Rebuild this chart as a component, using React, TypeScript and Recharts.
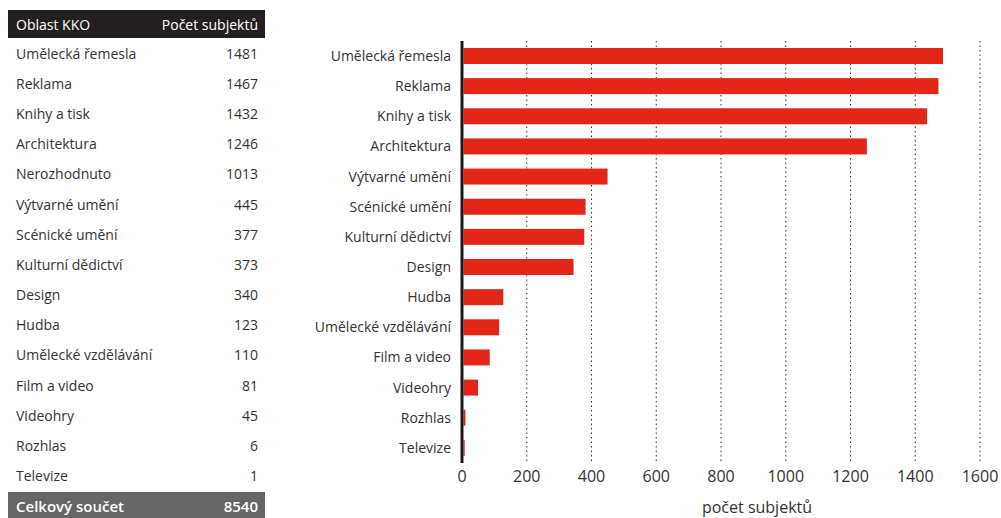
import { BarChart, Bar, XAxis, YAxis, CartesianGrid } from "recharts"

const categories = [
  "Umělecká řemesla",
  "Reklama",
  "Knihy a tisk",
  "Architektura",
  "Nerozhodnuto",
  "Výtvarné umění",
  "Scénické umění",
  "Kulturní dědictví",
  "Design",
  "Hudba",
  "Umělecké vzdělávání",
  "Film a video",
  "Videohry",
  "Rozhlas",
  "Televize",
]
const counts = [1481, 1467, 1432, 1246, 1013, 445, 377, 373, 340, 123, 110, 81, 45, 6, 1]
const notInChart = ["Nerozhodnuto"]
const xTicks = [0, 200, 400, 600, 800, 1000, 1200, 1400, 1600]

const FONT = "'Open Sans', 'Noto Sans', sans-serif"
const TEXT = "#333"
const RED = "#e42618"

// bars start at the right edge of the thick axis line
const BarShape = (props: any) => {
  const { x, y, width, height } = props
  return <rect x={x + 1.5} y={y} width={Math.max(width, 1.2)} height={height} fill={RED} />
}

export default function App() {
  const rows = categories.map((name, i) => ({ name, value: counts[i] }))
  const chartData = rows.filter((r) => !notInChart.includes(r.name))
  const total = counts.reduce((a, b) => a + b, 0)

  const cell = { display: "flex", justifyContent: "space-between", alignItems: "center", padding: "0 7px 0 8px" }

  return (
    <div style={{ position: "fixed", left: 0, top: 0, width: 1001, height: 518, overflow: "hidden", background: "#fff", fontFamily: FONT }}>
      <BarChart
        width={1001}
        height={518}
        data={chartData}
        layout="vertical"
        margin={{ top: 41, right: 21, bottom: 0, left: 282 }}
        style={{ position: "absolute", left: 0, top: 0 }}
      >
        <CartesianGrid horizontal={false} stroke="#333" strokeDasharray="1.5 3" />
        <XAxis
          type="number"
          domain={[0, 1600]}
          ticks={xTicks}
          axisLine={false}
          tickLine={false}
          height={55}
          tick={{ fontSize: 16, fill: TEXT, fontFamily: FONT }}
          label={{ value: "počet subjektů", position: "insideBottom", offset: 5, dx: 36, fontSize: 16, fill: TEXT, fontFamily: FONT }}
        />
        <YAxis
          type="category"
          dataKey="name"
          width={180}
          tickLine={false}
          tickMargin={5}
          axisLine={{ stroke: "#1a1a1a", strokeWidth: 3 }}
          tick={{ fontSize: 14, fill: TEXT, fontFamily: FONT }}
        />
        <Bar dataKey="value" fill={RED} barSize={16} shape={BarShape} isAnimationActive={false} />
      </BarChart>

      <div style={{ position: "absolute", left: 8, top: 10, width: 257, fontSize: 14, color: TEXT }}>
        <div style={{ ...cell, height: 28, background: "#231f20", color: "#fff" }}>
          <span>Oblast KKO</span>
          <span>Počet subjektů</span>
        </div>
        {rows.map((r) => (
          <div key={r.name} style={{ ...cell, height: 30.2 }}>
            <span>{r.name}</span>
            <span>{r.value}</span>
          </div>
        ))}
        <div style={{ ...cell, height: 28, marginTop: 1, background: "#666", color: "#fff", fontSize: 15, fontWeight: 600 }}>
          <span>Celkový součet</span>
          <span>{total}</span>
        </div>
      </div>
    </div>
  )
}
